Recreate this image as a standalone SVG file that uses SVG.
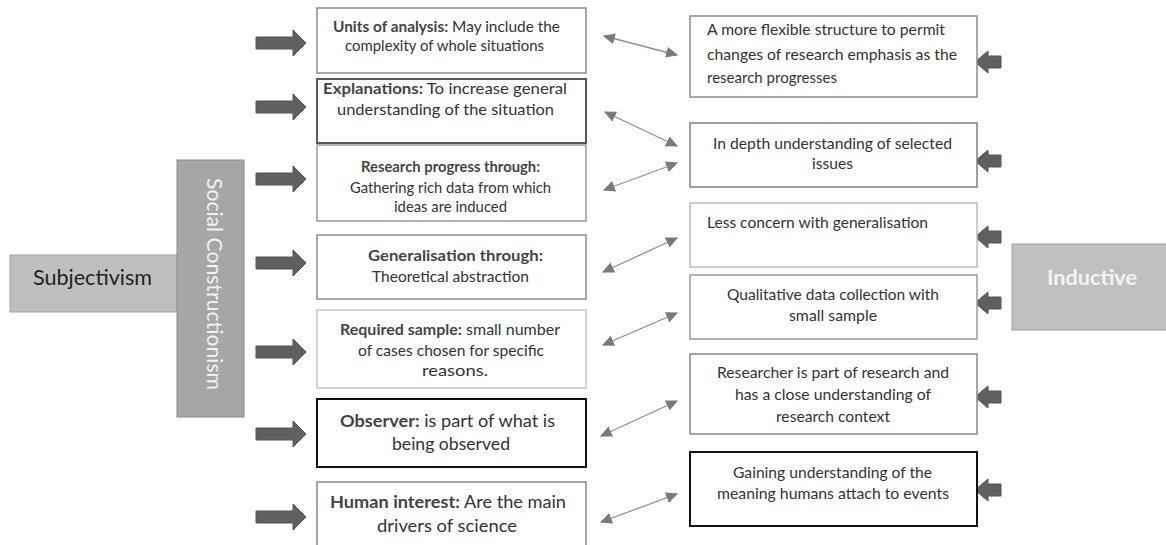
<svg xmlns="http://www.w3.org/2000/svg" width="1166" height="545" viewBox="0 0 1166 545">
<style>
.t{font-family:Lato,"Open Sans","Liberation Sans",sans-serif;fill:#333;font-size:15px;}
.b{font-weight:bold;fill:#444;}
.box{fill:#fff;stroke:#8c8c8c;stroke-width:1.5;}
.fat{fill:#606060;stroke:#555;stroke-width:1;}
.dl{stroke:#8f8f8f;stroke-width:1.3;fill:none;marker-start:url(#ah);marker-end:url(#ah);}
</style>
<defs>
<marker id="ah" viewBox="0 0 10 10" refX="9" refY="5" markerWidth="12" markerHeight="11" markerUnits="userSpaceOnUse" orient="auto-start-reverse" preserveAspectRatio="none">
<path d="M0,0 L10,5 L0,10 Z" fill="#7a7a7a"/>
</marker>
<path id="ra" d="M0,-6 H37 V-13 L50,0 L37,13 V6 H0 Z"/>
<path id="la" d="M0,0 L13,-11 V-6 H26 V6 H13 V11 Z"/>
</defs>
<rect width="1166" height="545" fill="#fff"/>

<g id="subjectivism">
<rect x="10" y="255" width="168" height="57" fill="#bfbfbf" stroke="#a3a3a3" stroke-width="1"/>
<text class="t" x="33" y="285" font-size="21" textLength="119" lengthAdjust="spacingAndGlyphs" style="fill:#222;font-size:21px">Subjectivism</text>
</g>
<g id="social-constructionism">
<rect x="177" y="160" width="67" height="257" fill="#a6a6a6" stroke="#8a8a8a" stroke-width="1"/>
<text class="t" transform="translate(207,178) rotate(90)" textLength="212" lengthAdjust="spacingAndGlyphs" style="fill:#f2f2f2;font-size:21px">Social Constructionism</text>
</g>
<g id="inductive">
<rect x="1012" y="244" width="160" height="86" fill="#c0c0c0" stroke="#a0a0a0" stroke-width="1"/>
<text class="t" x="1047" y="285" textLength="90" lengthAdjust="spacingAndGlyphs" style="fill:#f4f4f4;font-size:21px;font-weight:bold">Inductive</text>
</g>

<g id="left-arrows" class="fat">
<use href="#ra" transform="translate(256,43)"/>
<use href="#ra" transform="translate(256,107)"/>
<use href="#ra" transform="translate(256,179)"/>
<use href="#ra" transform="translate(256,263)"/>
<use href="#ra" transform="translate(256,352)"/>
<use href="#ra" transform="translate(256,434)"/>
<use href="#ra" transform="translate(256,517)"/>
</g>
<g id="right-arrows" class="fat">
<use href="#la" transform="translate(975,62)"/>
<use href="#la" transform="translate(975,161)"/>
<use href="#la" transform="translate(975,237)"/>
<use href="#la" transform="translate(975,303)"/>
<use href="#la" transform="translate(975,397)"/>
<use href="#la" transform="translate(975,490)"/>
</g>

<g id="m1">
<rect class="box" x="317" y="8" width="269" height="65"/>
<text class="t" x="333" y="32" textLength="227" lengthAdjust="spacingAndGlyphs"><tspan class="b">Units of analysis:</tspan> May include the</text>
<text class="t" x="345" y="51" textLength="199" lengthAdjust="spacingAndGlyphs">complexity of whole situations</text>
</g>
<g id="m2">
<rect class="box" x="317" y="79" width="269" height="64" style="stroke:#5a5a5a;stroke-width:2"/>
<text class="t" x="323" y="94" textLength="244" lengthAdjust="spacingAndGlyphs" style="font-size:16px"><tspan class="b">Explanations:</tspan> To increase general</text>
<text class="t" x="337" y="115" textLength="217" lengthAdjust="spacingAndGlyphs" style="font-size:16px">understanding of the situation</text>
</g>
<g id="m3">
<rect class="box" x="317" y="145" width="269" height="76" style="stroke:#9a9a9a"/>
<text class="t b" x="361" y="172" textLength="179" lengthAdjust="spacingAndGlyphs">Research progress through:</text>
<text class="t" x="350" y="193" textLength="201" lengthAdjust="spacingAndGlyphs">Gathering rich data from which</text>
<text class="t" x="394" y="212" textLength="113" lengthAdjust="spacingAndGlyphs">ideas are induced</text>
</g>
<g id="m4">
<rect class="box" x="317" y="235" width="269" height="64"/>
<text class="t b" x="368" y="261" textLength="175" lengthAdjust="spacingAndGlyphs">Generalisation through:</text>
<text class="t" x="372" y="282" textLength="157" lengthAdjust="spacingAndGlyphs">Theoretical abstraction</text>
</g>
<g id="m5">
<rect class="box" x="317" y="310" width="269" height="78" style="stroke:#c4c4c4"/>
<text class="t" x="340" y="335" textLength="220" lengthAdjust="spacingAndGlyphs"><tspan class="b">Required sample:</tspan> small number</text>
<text class="t" x="358" y="356" textLength="186" lengthAdjust="spacingAndGlyphs">of cases chosen for specific</text>
<text class="t" x="422" y="376" textLength="66" lengthAdjust="spacingAndGlyphs">reasons.</text>
</g>
<g id="m6">
<rect class="box" x="317" y="399" width="269" height="68" style="stroke:#111;stroke-width:2"/>
<text class="t" x="340" y="427" textLength="215" lengthAdjust="spacingAndGlyphs" style="font-size:17px"><tspan class="b">Observer:</tspan> is part of what is</text>
<text class="t" x="392" y="450" textLength="118" lengthAdjust="spacingAndGlyphs" style="font-size:17px">being observed</text>
</g>
<g id="m7">
<rect class="box" x="317" y="482" width="269" height="75" style="stroke:#888"/>
<text class="t" x="330" y="508" textLength="236" lengthAdjust="spacingAndGlyphs" style="font-size:17px"><tspan class="b">Human interest:</tspan> Are the main</text>
<text class="t" x="377" y="532" textLength="140" lengthAdjust="spacingAndGlyphs" style="font-size:17px">drivers of science</text>
</g>

<g id="r1">
<rect class="box" x="690" y="16" width="287" height="81"/>
<text class="t" x="707" y="35" textLength="238" lengthAdjust="spacingAndGlyphs">A more flexible structure to permit</text>
<text class="t" x="707" y="60" textLength="250" lengthAdjust="spacingAndGlyphs">changes of research emphasis as the</text>
<text class="t" x="707" y="83" textLength="130" lengthAdjust="spacingAndGlyphs">research progresses</text>
</g>
<g id="r2">
<rect class="box" x="690" y="123" width="287" height="64" style="stroke:#808080"/>
<text class="t" x="713" y="149" textLength="239" lengthAdjust="spacingAndGlyphs">In depth understanding of selected</text>
<text class="t" x="812" y="169" textLength="41" lengthAdjust="spacingAndGlyphs">issues</text>
</g>
<g id="r3">
<rect class="box" x="690" y="203" width="287" height="64" style="stroke:#bcbcbc"/>
<text class="t" x="707" y="228" textLength="221" lengthAdjust="spacingAndGlyphs">Less concern with generalisation</text>
</g>
<g id="r4">
<rect class="box" x="690" y="275" width="287" height="64" style="stroke:#9a9a9a"/>
<text class="t" x="727" y="300" textLength="212" lengthAdjust="spacingAndGlyphs">Qualitative data collection with</text>
<text class="t" x="789" y="321" textLength="88" lengthAdjust="spacingAndGlyphs">small sample</text>
</g>
<g id="r5">
<rect class="box" x="690" y="354" width="287" height="80" style="stroke:#888"/>
<text class="t" x="717" y="378" textLength="232" lengthAdjust="spacingAndGlyphs">Researcher is part of research and</text>
<text class="t" x="735" y="400" textLength="196" lengthAdjust="spacingAndGlyphs">has a close understanding of</text>
<text class="t" x="776" y="422" textLength="114" lengthAdjust="spacingAndGlyphs">research context</text>
</g>
<g id="r6">
<rect class="box" x="690" y="452" width="287" height="74" style="stroke:#111;stroke-width:2"/>
<text class="t" x="733" y="478" textLength="199" lengthAdjust="spacingAndGlyphs">Gaining understanding of the</text>
<text class="t" x="717" y="499" textLength="232" lengthAdjust="spacingAndGlyphs">meaning humans attach to events</text>
</g>

<g id="connectors">
<line class="dl" x1="604" y1="36" x2="677" y2="55"/>
<line class="dl" x1="605" y1="112" x2="677" y2="146"/>
<line class="dl" x1="604" y1="190" x2="677" y2="163"/>
<line class="dl" x1="603" y1="272" x2="677" y2="238"/>
<line class="dl" x1="603" y1="345" x2="677" y2="313"/>
<line class="dl" x1="601" y1="436" x2="677" y2="401"/>
<line class="dl" x1="601" y1="522" x2="677" y2="494"/>
</g>
</svg>
